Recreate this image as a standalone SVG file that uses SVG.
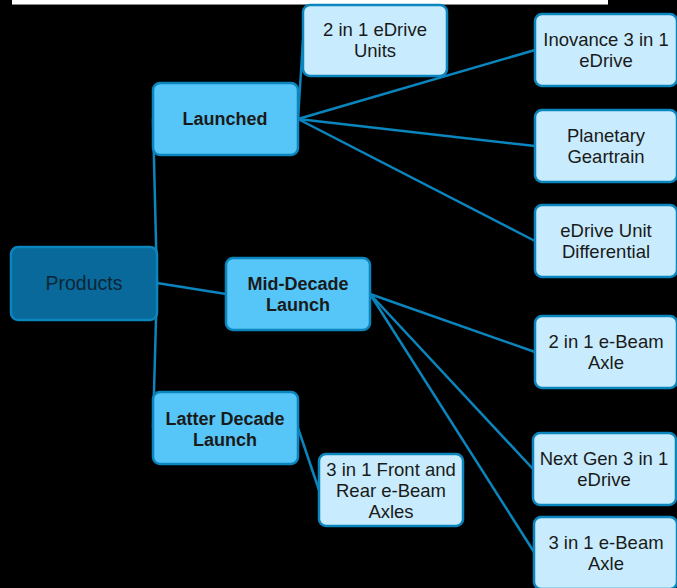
<svg xmlns="http://www.w3.org/2000/svg" width="677" height="588" viewBox="0 0 677 588">
<style>
.bg{fill:#000}
.n rect{stroke:#0a85bd;stroke-width:2.5}
.root rect{fill:#08699a}
.mid rect{fill:#55c6f7}
.leaf rect{fill:#c8ecfd}
text{font-family:"Liberation Sans",Arial,sans-serif;font-size:18.5px;fill:#1a1a1a;text-anchor:middle}
.mid text{font-weight:bold;font-size:18px}
.root text{fill:#0e2535;font-size:19.5px}
#connectors line{stroke:#0a85bd;stroke-width:2.5}
</style>
<rect class="bg" x="0" y="0" width="677" height="588"/>
<rect x="12" y="0" width="596" height="4" fill="#fff"/>
<line x1="12" y1="4.5" x2="608" y2="4.5" stroke="#888" stroke-width="1"/>
<g id="connectors">
<line x1="157" y1="283" x2="153" y2="119"/>
<line x1="157" y1="283" x2="226" y2="294"/>
<line x1="157" y1="283" x2="153" y2="428"/>
<line x1="298" y1="119" x2="303" y2="40"/>
<line x1="298" y1="119" x2="535" y2="50"/>
<line x1="298" y1="119" x2="535" y2="146"/>
<line x1="298" y1="119" x2="535" y2="241"/>
<line x1="370" y1="294" x2="535" y2="352"/>
<line x1="370" y1="294" x2="533" y2="469"/>
<line x1="370" y1="294" x2="534" y2="552"/>
<line x1="298" y1="428" x2="319" y2="490"/>
</g>
<g id="products" class="n root"><rect x="11" y="247" width="146" height="73" rx="7"/><text x="84" y="290">Products</text></g>
<g id="launched" class="n mid"><rect x="153" y="83" width="145" height="72" rx="7"/><text x="225" y="125">Launched</text></g>
<g id="mid-decade" class="n mid"><rect x="226" y="258" width="144" height="72" rx="7"/><text x="298" y="290">Mid-Decade</text><text x="298" y="311">Launch</text></g>
<g id="latter-decade" class="n mid"><rect x="153" y="392" width="145" height="72" rx="7"/><text x="225" y="425">Latter Decade</text><text x="225" y="446">Launch</text></g>
<g id="edrive-2in1" class="n leaf"><rect x="303" y="5" width="144" height="71" rx="7"/><text x="375" y="36">2 in 1 eDrive</text><text x="375" y="57">Units</text></g>
<g id="inovance" class="n leaf"><rect x="535" y="14" width="142" height="72" rx="7"/><text x="606" y="46">Inovance 3 in 1</text><text x="606" y="67">eDrive</text></g>
<g id="planetary" class="n leaf"><rect x="535" y="110" width="142" height="72" rx="7"/><text x="606" y="142">Planetary</text><text x="606" y="163">Geartrain</text></g>
<g id="differential" class="n leaf"><rect x="535" y="205" width="142" height="72" rx="7"/><text x="606" y="237">eDrive Unit</text><text x="606" y="258">Differential</text></g>
<g id="ebeam-2in1" class="n leaf"><rect x="535" y="316" width="142" height="72" rx="7"/><text x="606" y="348">2 in 1 e-Beam</text><text x="606" y="369">Axle</text></g>
<g id="nextgen" class="n leaf"><rect x="533" y="433" width="143" height="72" rx="7"/><text x="604" y="465">Next Gen 3 in 1</text><text x="604" y="486">eDrive</text></g>
<g id="ebeam-3in1" class="n leaf"><rect x="534" y="517" width="143" height="72" rx="7"/><text x="606" y="549">3 in 1 e-Beam</text><text x="606" y="570">Axle</text></g>
<g id="front-rear" class="n leaf"><rect x="319" y="454" width="144" height="72" rx="7"/><text x="391" y="476">3 in 1 Front and</text><text x="391" y="497">Rear e-Beam</text><text x="391" y="518">Axles</text></g>
</svg>
